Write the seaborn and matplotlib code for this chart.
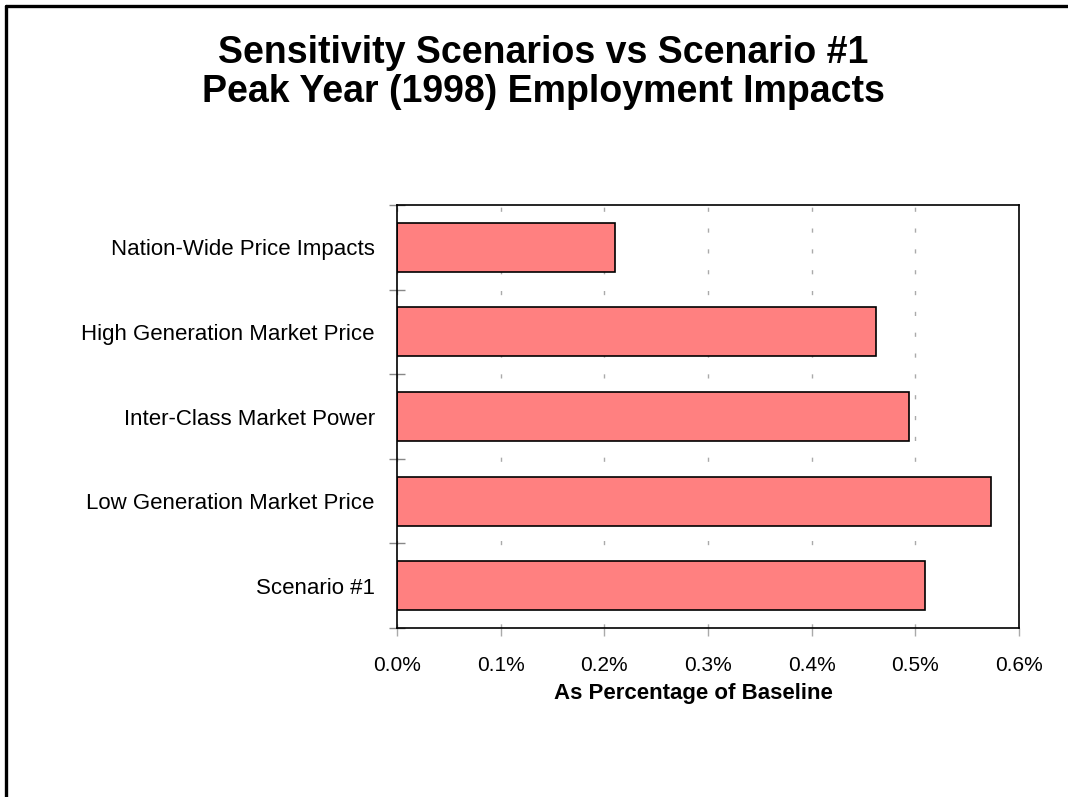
import matplotlib
matplotlib.use("Agg")
import matplotlib.pyplot as plt
from matplotlib.lines import Line2D
from matplotlib.ticker import FixedLocator, PercentFormatter
import seaborn as sns
import pandas as pd

# Peak-year (1998) employment impacts, % of baseline
scenarios = [
    "Nation-Wide Price Impacts",
    "High Generation Market Price",
    "Inter-Class Market Power",
    "Low Generation Market Price",
    "Scenario #1",
]
impact_pct = [0.21, 0.462, 0.494, 0.573, 0.509]
x_ticks = [0.0, 0.1, 0.2, 0.3, 0.4, 0.5, 0.6]

df = pd.DataFrame({"scenario": scenarios, "impact": impact_pct})

sns.set_theme(style="white")
plt.rcParams["font.family"] = ["Liberation Sans", "DejaVu Sans"]
plt.rcParams["text.color"] = "black"
plt.rcParams["axes.labelcolor"] = "black"

fig = plt.figure(figsize=(10.68, 7.97), dpi=100)
ax = fig.add_axes([0.3717, 0.2120, 0.5824, 0.5308])

sns.barplot(data=df, x="impact", y="scenario", orient="h", ax=ax,
            color="#FF8080", saturation=1, width=0.58,
            edgecolor="black", linewidth=1.2)

ax.set_xlim(0, 0.6)
ax.set_ylim(len(scenarios) - 0.5, -0.5)
ax.xaxis.set_major_locator(FixedLocator(x_ticks))
ax.xaxis.set_major_formatter(PercentFormatter(decimals=1))

# dashed vertical gridlines
ax.grid(axis="x", color="#aaaaaa", linewidth=1, linestyle=(0, (3, 12)))
ax.grid(axis="y", visible=False)
ax.set_axisbelow(True)

# category labels without ticks; ticks at the boundaries between categories
ax.tick_params(axis="y", which="major", length=0, pad=16, labelsize=16,
               labelcolor="black")
ax.yaxis.set_minor_locator(FixedLocator([i - 0.5 for i in range(len(scenarios) + 1)]))
ax.tick_params(axis="y", which="minor", direction="inout", length=12,
               width=1, color="#888888", left=True)
ax.tick_params(axis="x", which="major", direction="out", length=6,
               width=1, color="#aaaaaa", bottom=True, pad=14, labelsize=15,
               labelcolor="black")

for side in ["left", "right", "top", "bottom"]:
    ax.spines[side].set_visible(True)
    ax.spines[side].set_color("black")
    ax.spines[side].set_linewidth(1.2)

ax.set_ylabel("")
ax.set_xlabel("As Percentage of Baseline", fontsize=16, fontweight="bold")
ax.xaxis.set_label_coords(0.476, -0.129)

fig.text(0.5085, 0.909, "Sensitivity Scenarios vs Scenario #1\nPeak Year (1998) Employment Impacts",
         ha="center", va="center", fontsize=27, fontweight="bold",
         linespacing=1.08, color="black")

# page frame along the top and left edges
fig.add_artist(Line2D([0.0056, 1.0], [0.9925, 0.9925], transform=fig.transFigure,
                      color="black", linewidth=2.4))
fig.add_artist(Line2D([0.0056, 0.0056], [0.0, 0.9925], transform=fig.transFigure,
                      color="black", linewidth=2.4))

fig.savefig("out.png", dpi=100, facecolor="white")
